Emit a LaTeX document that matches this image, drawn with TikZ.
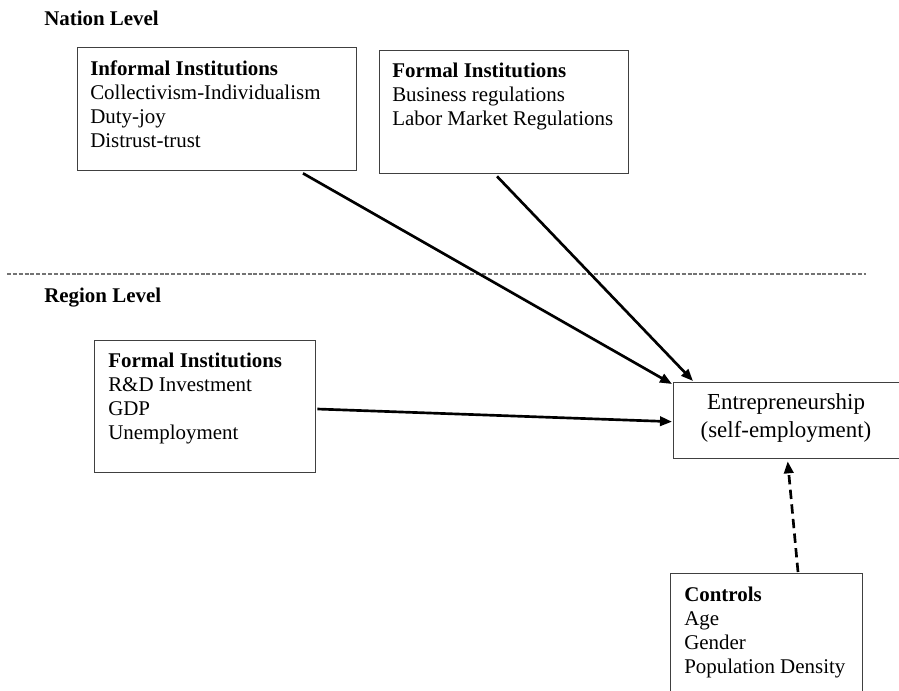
\documentclass[tikz,border=0pt]{standalone}
\usepackage{fontspec}
\setmainfont{Liberation Serif}
\usetikzlibrary{arrows.meta,calc}
\begin{document}
\begin{tikzpicture}[x=0.75pt,y=-0.75pt,
  box/.style={draw=black!75,line width=1pt,inner sep=0pt,anchor=north west},
  boxtext/.style={anchor=north west,align=left,inner sep=0pt,font=\fontsize{15.7}{18}\selectfont},
  level/.style={anchor=west,inner sep=0pt,font=\fontsize{15.7}{18}\selectfont\bfseries},
  link/.style={line width=2pt,-{Triangle[length=9pt,width=7pt]}},
  dlink/.style={line width=2pt,dash pattern=on 7pt off 4pt,-{Triangle[length=9pt,width=7pt]}},
  divider/.style={draw=black!55,line width=1pt,dash pattern=on 3pt off 1.4pt}]
\useasboundingbox (0,0) rectangle (899,690);
\clip (0,0) rectangle (899,690);
% level labels
\node[level] (nation) at (44,18) {Nation Level};
\node[level] (region) at (44,298) {Region Level};
\coordinate (dl) at (7,274);
\coordinate (dr) at (866,274);
\draw[divider] (dl) -- (dr);
% boxes
\node[box,minimum width=279*0.75pt,minimum height=123*0.75pt] (inf) at (77,47) {};
\node[boxtext] (inft) at (90,60) {\textbf{Informal Institutions}\\Collectivism-Individualism\\Duty-joy\\Distrust-trust};
\node[box,minimum width=249*0.75pt,minimum height=123*0.75pt] (fnat) at (379,50) {};
\node[boxtext] (fnatt) at (392,63) {\textbf{Formal Institutions}\\Business regulations\\Labor Market Regulations};
\node[box,minimum width=221*0.75pt,minimum height=132*0.75pt] (freg) at (94,340) {};
\node[boxtext] (fregt) at (108,353) {\textbf{Formal Institutions}\\R\&D Investment\\GDP\\Unemployment};
\node[box,minimum width=226*0.75pt,minimum height=76*0.75pt] (ent) at (673,382) {};
\node[anchor=center,align=center,inner sep=0pt,font=\fontsize{17.2}{21}\selectfont] (entt) at (786,418) {Entrepreneurship\\(self-employment)};
\node[box,minimum width=192*0.75pt,minimum height=140*0.75pt] (ctrl) at (670,573) {};
\node[boxtext] (ctrlt) at (684,587) {\textbf{Controls}\\Age\\Gender\\Population Density};
% connectors
\draw[link] ($(inf.south west)+(226,2)$) -- ($(ent.north west)+(-1,2)$);
\draw[link] ($(fnat.south west)+(118,2)$) -- ($(ent.north west)+(20,-1)$);
\draw[link] ($(freg.north east)+(1,69)$) -- ($(ent.west)+(-1,1)$);
\draw[dlink] ($(ctrl.north west)+(128,-1)$) -- ($(ent.south)+(1,2)$);
\end{tikzpicture}
\end{document}
